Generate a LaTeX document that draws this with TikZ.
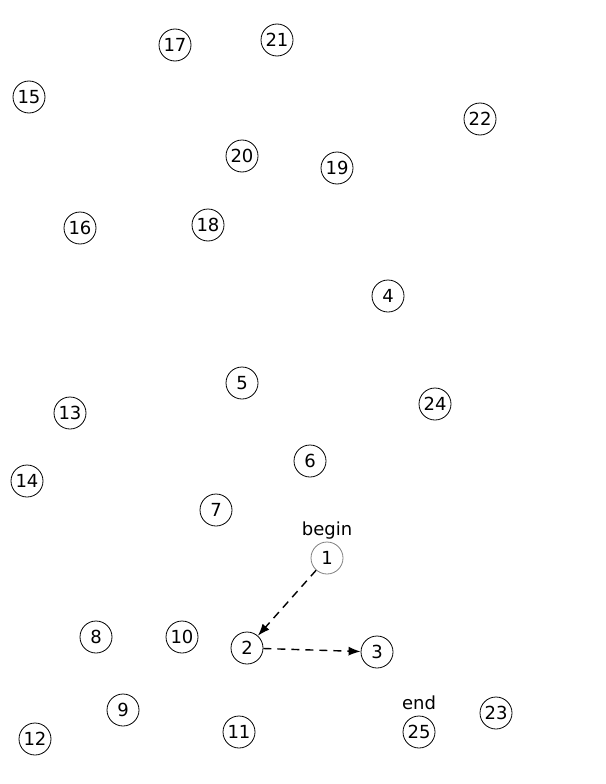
\documentclass[tikz,border=0pt]{standalone}
\usepackage{fontspec}
\setmainfont{DejaVu Sans}
\usetikzlibrary{arrows.meta}

\tikzset{
  state/.style={circle,draw,line width=0.8pt,minimum size=32pt,inner sep=0pt,font=\fontsize{18}{21}\selectfont},
  firststate/.style={state,draw=gray},
  tag/.style={font=\fontsize{18}{21}\selectfont},
  move/.style={line width=1.4pt,-{Latex[length=12pt,width=9pt]},dash pattern=on 8pt off 6pt}
}

\begin{document}
\begin{tikzpicture}[x=1pt,y=-1pt]
        \useasboundingbox (0,0) rectangle (605,784);

        \node[state] (n17) at (175,45) {17};
        \node[state] (n21) at (277,40) {21};
        \node[state] (n15) at (29,97) {15};
        \node[state] (n22) at (480,119) {22};
        \node[state] (n20) at (242,156) {20};
        \node[state] (n19) at (337,168) {19};
        \node[state] (n16) at (80,228) {16};
        \node[state] (n18) at (208,225) {18};
        \node[state] (n4) at (388,296) {4};
        \node[state] (n5) at (242,383) {5};
        \node[state] (n13) at (70,413) {13};
        \node[state] (n24) at (435,404) {24};
        \node[state] (n6) at (310,461) {6};
        \node[state] (n14) at (27,481) {14};
        \node[state] (n7) at (216,510) {7};
        \node[firststate] (n1) at (327,558) {1};
        \node[state] (n8) at (96,637) {8};
        \node[state] (n10) at (182,637) {10};
        \node[state] (n2) at (247,648) {2};
        \node[state] (n3) at (377,652) {3};
        \node[state] (n9) at (123,710) {9};
        \node[state] (n23) at (496,713) {23};
        \node[state] (n12) at (35,739) {12};
        \node[state] (n11) at (239,732) {11};
        \node[state] (n25) at (419,732) {25};

        \node[tag] (begin) at (327,531) {begin};
        \node[tag] (end) at (419,703) {end};

        \draw[move] (n1)--(n2);
        \draw[move] (n2)--(n3);

    \end{tikzpicture}
\end{document}
